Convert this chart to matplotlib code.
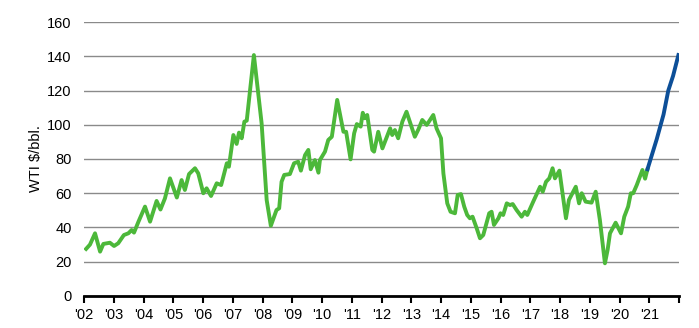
import matplotlib
matplotlib.use("Agg")
import matplotlib.pyplot as plt

plt.rcParams['font.family'] = ['Liberation Sans', 'DejaVu Sans']

# WTI monthly price (decimal year, $/bbl)
hist_year = [2002.07, 2002.20, 2002.37, 2002.54, 2002.65, 2002.87, 2003.01, 2003.15, 2003.34,
             2003.49, 2003.60, 2003.68, 2003.83, 2004.05, 2004.22, 2004.44, 2004.57, 2004.72,
             2004.89, 2005.12, 2005.28, 2005.39, 2005.53, 2005.73, 2005.84, 2006.01, 2006.12,
             2006.27, 2006.46, 2006.61, 2006.80, 2006.87, 2007.02, 2007.13, 2007.21, 2007.30,
             2007.39, 2007.47, 2007.71, 2007.97, 2008.14, 2008.28, 2008.47, 2008.56, 2008.64,
             2008.73, 2008.92, 2009.06, 2009.20, 2009.29, 2009.43, 2009.54, 2009.62, 2009.76,
             2009.88, 2009.93, 2010.10, 2010.21, 2010.33, 2010.51, 2010.72, 2010.81, 2010.96,
             2011.08, 2011.17, 2011.30, 2011.37, 2011.44, 2011.52, 2011.69, 2011.75, 2011.89,
             2012.03, 2012.29, 2012.36, 2012.45, 2012.56, 2012.70, 2012.84, 2013.12, 2013.24,
             2013.37, 2013.52, 2013.74, 2013.85, 2014.00, 2014.08, 2014.21, 2014.32, 2014.47,
             2014.56, 2014.67, 2014.78, 2014.88, 2014.97, 2015.06, 2015.20, 2015.31, 2015.42,
             2015.62, 2015.70, 2015.78, 2015.93, 2016.00, 2016.09, 2016.21, 2016.32, 2016.41,
             2016.54, 2016.71, 2016.82, 2016.90, 2017.10, 2017.33, 2017.42, 2017.53, 2017.64,
             2017.75, 2017.83, 2017.98, 2018.20, 2018.30, 2018.53, 2018.64, 2018.73, 2018.86,
             2019.06, 2019.20, 2019.34, 2019.51, 2019.60, 2019.68, 2019.87, 2020.05, 2020.16,
             2020.29, 2020.38, 2020.46, 2020.58, 2020.77, 2020.86, 2020.94]
hist_wti = [27.5, 30.0, 36.6, 25.9, 30.4, 31.1, 29.2, 30.8, 35.6,
            36.6, 38.5, 37.0, 43.4, 52.2, 43.4, 55.5, 50.5, 57.0,
            68.7, 57.5, 67.7, 61.9, 71.2, 74.6, 71.6, 60.0, 62.9,
            58.4, 65.8, 64.8, 77.5, 75.5, 94.0, 88.8, 95.4, 92.1,
            101.8, 102.4, 140.7, 100.8, 56.0, 41.0, 50.2, 51.2, 66.7,
            70.7, 71.2, 77.5, 78.4, 73.2, 82.3, 85.3, 74.0, 79.4,
            72.0, 79.4, 84.3, 91.1, 93.0, 114.5, 95.9, 95.9, 79.8,
            95.0, 100.4, 98.9, 107.0, 103.8, 105.7, 85.3, 84.3, 95.9,
            86.2, 97.9, 94.0, 96.9, 92.1, 101.8, 107.6, 93.0, 97.3,
            102.8, 99.9, 105.7, 97.9, 92.1, 71.6, 54.1, 49.2, 48.3,
            59.0, 59.5, 52.2, 47.3, 45.4, 46.3, 39.5, 33.7, 35.6,
            48.3, 49.2, 41.5, 45.4, 48.3, 47.3, 54.1, 53.1, 53.7,
            50.2, 46.3, 49.2, 47.3, 55.1, 63.8, 60.9, 66.7, 68.7,
            74.6, 68.7, 73.2, 45.4, 56.1, 63.8, 54.1, 60.0, 55.1,
            54.5, 60.9, 44.4, 19.1, 26.9, 36.6, 42.8, 36.6, 46.3,
            52.2, 60.0, 60.0, 64.8, 73.6, 68.5, 74.0]

# forecast path
fc_year = [2020.94, 2021.25, 2021.48, 2021.64, 2021.80, 2021.98]
fc_wti = [74.0, 91.5, 106.0, 120.0, 128.5, 140.7]

years = list(range(2002, 2023))
year_labels = ["'%02d" % (y % 100) for y in years[:-1]] + [""]

fig = plt.figure(figsize=(6.99, 3.28), dpi=100)
ax = fig.add_axes((0.1202, 0.0976, 0.8512, 0.8353))

ax.plot(hist_year, hist_wti, color='#4cb83a', lw=2.8, solid_joinstyle='round', zorder=3)
ax.plot(fc_year, fc_wti, color='#0d4f98', lw=2.8, solid_joinstyle='round', zorder=3)

ax.set_xlim(2002, 2022)
ax.set_ylim(0, 160)
ax.set_yticks(range(0, 161, 20))
ax.yaxis.grid(True, color='#8a8a8a', lw=1.0)
ax.set_axisbelow(True)

ax.set_xticks(years)
ax.set_xticklabels(year_labels, fontsize=10.5)
ax.tick_params(axis='x', direction='out', length=5, width=1.5, color='black', pad=4)
ax.tick_params(axis='y', length=0, labelsize=10.5, pad=9)

for s in ['top', 'right', 'left']:
    ax.spines[s].set_visible(False)
ax.spines['bottom'].set_linewidth(2)
ax.spines['bottom'].set_color('black')

ax.set_ylabel('WTI $/bbl.', fontsize=10.5, labelpad=3)

fig.savefig('out.png', dpi=100)
